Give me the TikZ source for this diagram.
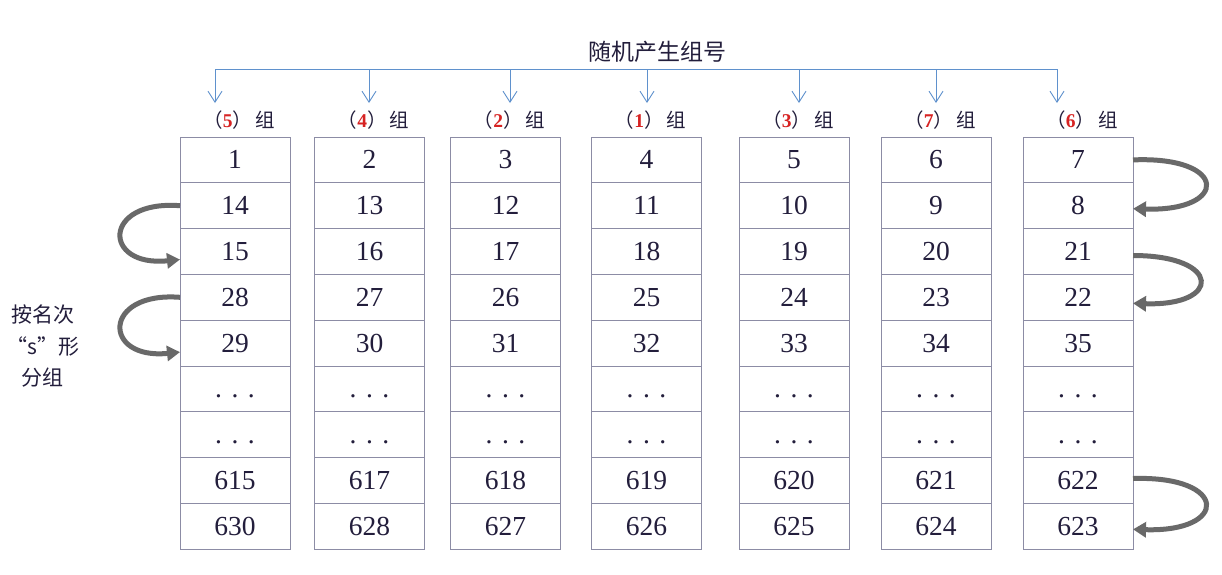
\documentclass[tikz,border=0pt]{standalone}
\usepackage{fontspec}
\setmainfont{Liberation Serif}
\newfontfamily\cjk{Noto Sans CJK SC}
\usepackage{xcolor}
\usetikzlibrary{arrows.meta,calc,positioning}
\definecolor{cellline}{RGB}{140,140,165}
\definecolor{numink}{RGB}{35,30,60}
\definecolor{busblue}{RGB}{95,145,205}
\definecolor{turngray}{RGB}{105,105,105}
\definecolor{groupred}{RGB}{215,35,35}
\tikzstyle{cell} = [draw=cellline, line width=0.9pt, rectangle, outer sep=0pt, inner sep=0pt,
    minimum width=110pt, minimum height=45.8pt, text height=18pt, text depth=0pt,
    text=numink, font=\fontsize{27.5}{29}\selectfont]
\tikzstyle{grouplabel} = [inner sep=0pt, text=numink, font=\fontsize{19.5}{21}\selectfont]
\tikzstyle{bus} = [draw=busblue, line width=0.9pt]
\tikzstyle{turn} = [draw=turngray, line width=5pt, -{Triangle[length=13pt,width=15pt]}]

\begin{document}
\begin{tikzpicture}[x=1pt,y=-1pt]
\fill[white] (0,0) rectangle (1222,574);
\useasboundingbox (0,0) rectangle (1222,574);

%% Titel %%
\node [text=numink, font=\cjk\fontsize{23}{25}\selectfont] (Title) at (657,52) {随机产生组号};

%% Kolonner %%
\foreach \i/\x/\g/\ax/\va/\vb in {1/235/5/215/615/630, 2/369.5/4/369/617/628, 3/505.5/2/510/618/627, 4/646.5/1/647/619/626, 5/794/3/799/620/625, 6/936/7/936/621/624, 7/1078/6/1057/622/623}{
  \pgfmathtruncatemacro{\ra}{\i}
  \pgfmathtruncatemacro{\rb}{15-\i}
  \pgfmathtruncatemacro{\rc}{14+\i}
  \pgfmathtruncatemacro{\rd}{29-\i}
  \pgfmathtruncatemacro{\re}{28+\i}
  \node [cell] (C\i-1) at (\x,159.9) {\ra};
  \node [cell, below=0pt of C\i-1] (C\i-2) {\rb};
  \node [cell, below=0pt of C\i-2] (C\i-3) {\rc};
  \node [cell, below=0pt of C\i-3] (C\i-4) {\rd};
  \node [cell, below=0pt of C\i-4] (C\i-5) {\re};
  \node [cell, below=0pt of C\i-5] (C\i-6) {.\hspace{9.5pt}.\hspace{9.5pt}.};
  \node [cell, below=0pt of C\i-6] (C\i-7) {.\hspace{9.5pt}.\hspace{9.5pt}.};
  \node [cell, below=0pt of C\i-7] (C\i-8) {\va};
  \node [cell, below=0pt of C\i-8] (C\i-9) {\vb};
  \node [grouplabel] (G\i) at ($(C\i-1.north)+(4,-17)$) {{\cjk （}\textbf{\color{groupred}\g}{\cjk ）}\hspace{3pt}{\cjk 组}};
  \coordinate (Bus\i) at (\ax,69);
  \coordinate (Tip\i) at (\ax,103);
  \draw[bus, -{Straight Barb[length=11pt,width=14pt]}] (Bus\i) -- (Tip\i);
}
\draw[bus] (Bus1) -- (Bus7);

%% Venstre side %%
\node [text=numink, align=center, font=\cjk\fontsize{21}{31.5}\selectfont] (SText) at (43,346) {按名次\\“s”形\\分组};

%% S-pile %%
\draw[turn] (C1-2.west) .. controls +(-78,-6) and +(-78,8) .. ($(C1-3.west)+(0,8)$);
\draw[turn] (C1-4.west) .. controls +(-78,-6) and +(-78,8) .. ($(C1-5.west)+(0,9)$);
\draw[turn] (C7-1.east) .. controls +(96,-4) and +(96,3) .. ($(C7-2.east)+(0,3)$);
\draw[turn] ($(C7-3.east)+(0,4)$) .. controls +(89,0) and +(89,3) .. ($(C7-4.east)+(0,6)$);
\draw[turn] ($(C7-8.east)+(0,-2)$) .. controls +(96,-3) and +(96,3) .. ($(C7-9.east)+(0,3)$);
\end{tikzpicture}
\end{document}
